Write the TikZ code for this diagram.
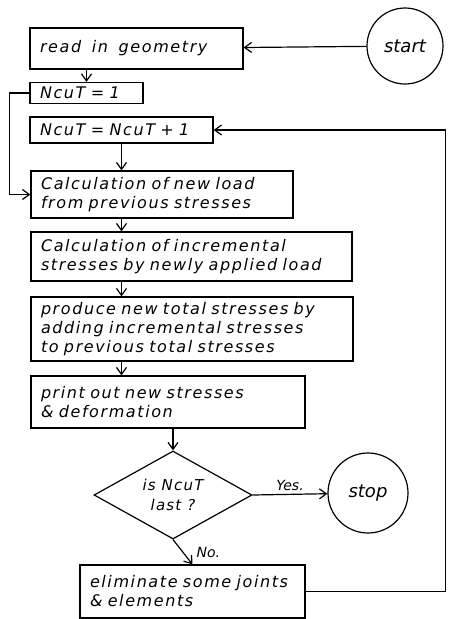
\documentclass[tikz,border=0pt]{standalone}
\usepackage{fontspec}
\setmainfont{DejaVu Sans}
\usetikzlibrary{arrows.meta,shapes.geometric,positioning}

\begin{document}
\begin{tikzpicture}[x=1pt, y=-1pt,
    stepbox/.style={draw, line width=1.2pt, align=left, inner xsep=10pt, inner ysep=2pt,
        font=\fontsize{16}{19}\selectfont\itshape\addfontfeatures{LetterSpace=10}},
    term/.style={draw, circle, line width=1.2pt, font=\fontsize{18}{20}\selectfont\itshape},
    test/.style={draw, diamond, aspect=1.8, line width=1.2pt, inner sep=0pt, align=center,
        font=\fontsize{15}{20}\selectfont\itshape\addfontfeatures{LetterSpace=8}},
    arr/.style={-{Straight Barb[length=7pt,width=10pt]}, line width=1.2pt},
    lbl/.style={font=\fontsize{14}{16}\selectfont\itshape}
]
\useasboundingbox (0,0) rectangle (456,619);

% terminals
\node[term, minimum size=76pt] (start) at (405,46) {start};
\node[term, minimum size=80pt] (stop) at (368,493) {stop};

% process boxes
\node[stepbox, text width=193pt, minimum height=41pt] (read) at (136.5,48.5) {read\ \ in\ \ geometry};
\node[stepbox, text width=93pt, minimum height=21pt] (ncutone) at (86.5,93) {NcuT = 1};
\node[stepbox, text width=163pt, minimum height=26pt] (ncutinc) at (121.5,130) {NcuT = NcuT + 1};
\node[stepbox, text width=242pt, minimum height=47pt] (calcload) at (162,194.5)
    {Calculation of new load\\from previous stresses};
\node[stepbox, text width=301pt, minimum height=49pt] (calcinc) at (191.5,256.5)
    {Calculation of incremental\\stresses by newly applied load};
\node[stepbox, text width=302pt, minimum height=64pt] (produce) at (192,329)
    {produce new total stresses by\\adding incremental stresses\\to previous total stresses};
\node[stepbox, text width=254pt, minimum height=52pt] (print) at (168,402)
    {print out new stresses\\\& deformation};
\node[test, minimum width=158pt, minimum height=88pt] (last) at (173,495) {is NcuT\\last ?};
\node[stepbox, text width=205pt, minimum height=53pt] (elim) at (192.5,591.5)
    {eliminate some joints\\\& elements};

% connectors
\draw[arr] (start) -- (read);
\draw[arr] (read.south -| ncutone.north) -- (ncutone.north);
\draw[arr] (ncutone.west) -- ++(-20,0) |- (calcload.west);
\draw[arr] (ncutinc.south) -- (ncutinc.south |- calcload.north);
\draw[arr] (calcload.south -| ncutinc.south) -- (ncutinc.south |- calcinc.north);
\draw[arr] (calcinc.south -| ncutinc.south) -- (ncutinc.south |- produce.north);
\draw[arr] (produce.south -| ncutinc.south) -- (ncutinc.south |- print.north);
\draw[arr] (print.south -| last.north) -- (last.north);
\draw[arr] (last.east) -- node[lbl, above] {Yes.} (stop);
\draw[arr] (last.south) -- node[lbl, right, xshift=10pt] {No.} (elim.north);
\draw[arr] (elim.east) -- ++(140,0) |- (ncutinc.east);
\end{tikzpicture}
\end{document}
